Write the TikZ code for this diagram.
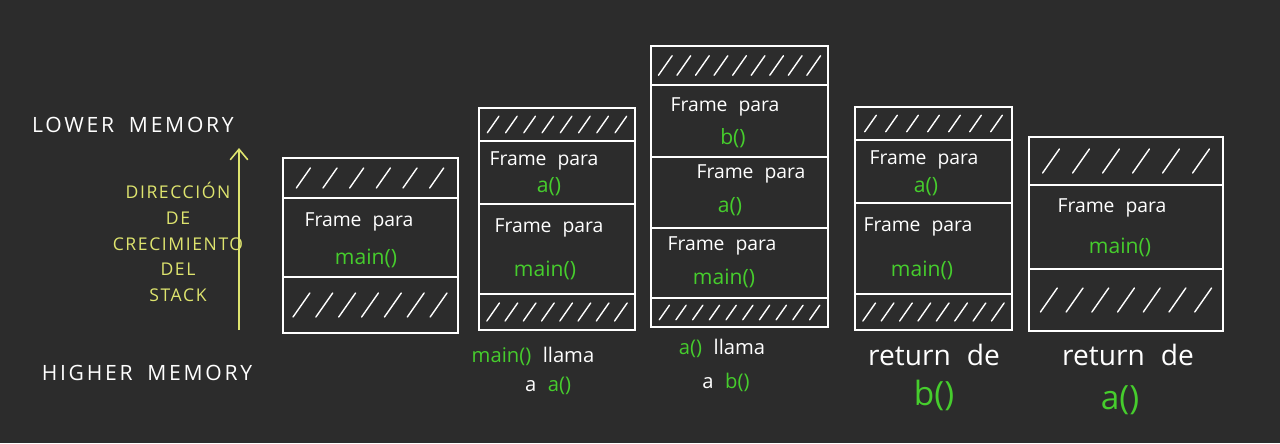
\documentclass[tikz,border=0pt]{standalone}
\usepackage{fontspec}
\setmainfont[WordSpace=2.2]{Open Sans}
\newfontfamily\spacedfont[LetterSpace=13,WordSpace=1.8]{Open Sans}
\newfontfamily\yellowfont[LetterSpace=9]{Open Sans}
\usetikzlibrary{positioning}
\usetikzlibrary{arrows.meta}
\definecolor{board}{RGB}{44,44,44}
\definecolor{codegreen}{RGB}{70,205,45}
\definecolor{chalkyellow}{RGB}{222,228,110}
% hatch strokes in a free slot: x1, x2, ytop, ybottom, count
\newcommand\hatchrow[5]{
  \foreach \i in {1,...,#5}{
    \pgfmathsetmacro\hx{#1+(#2-#1)*(\i-0.5)/#5}
    \pgfmathsetmacro\hv{min(0.5*(#4-#3),24)}
    \draw[chalk, line cap=round] (\hx-0.35*\hv, {(#3+#4)/2+\hv/2}) -- (\hx+0.35*\hv, {(#3+#4)/2-\hv/2});
  }
}
\tikzset{
  chalk/.style={white, line width=0.8pt},
  frametxt/.style={white, font=\fontsize{11}{13}\selectfont},
  fn/.style={codegreen, font=\fontsize{12}{14}\selectfont},
  bigfn/.style={codegreen, font=\fontsize{19}{22}\selectfont},
  caption/.style={white, font=\fontsize{11.5}{14}\selectfont},
  bigcaption/.style={white, font=\fontsize{16}{19}\selectfont},
}

\begin{document}
\begin{tikzpicture}[x=0.02cm, y=-0.02cm]
  \fill[board] (0,0) rectangle (1280,443);
  \useasboundingbox (0,0) rectangle (1280,443);

  % memory side
  \node[white, font=\spacedfont\fontsize{12}{14}\selectfont] (lower) at (133,125) {LOWER MEMORY};
  \node[white, font=\spacedfont\fontsize{12}{14}\selectfont] (higher) at (147,373) {HIGHER MEMORY};
  \coordinate (growfoot) at (239,330);
  \coordinate (growtip) at (239,148);
  \draw[chalkyellow, line width=0.9pt, -{Straight Barb[length=6pt,width=10pt]}] (growfoot) -- (growtip);
  \node[chalkyellow, align=center, font=\yellowfont\fontsize{10}{14.6}\selectfont] (growth) at (178,242)
    {DIRECCIÓN\\DE\\CRECIMIENTO\\DEL\\STACK};

  % stack 1
  \draw[chalk] (283,158) rectangle (458,333);
  \draw[chalk] (283,198) -- (458,198);
  \draw[chalk] (283,277) -- (458,277);
  \hatchrow{290}{450}{158}{198}{6}
  \hatchrow{290}{450}{277}{333}{7}
  \node[frametxt] (s1main) at (359,222) {Frame para};
  \node[fn] (s1mainfn) at (366,258) {main()};

  % stack 2
  \draw[chalk] (479,108) rectangle (635,330);
  \draw[chalk] (479,141) -- (635,141);
  \draw[chalk] (479,204) -- (635,204);
  \draw[chalk] (479,294) -- (635,294);
  \hatchrow{484}{630}{108}{141}{8}
  \hatchrow{484}{630}{294}{330}{8}
  \node[frametxt] (s2a) at (544,161) {Frame para};
  \node[fn] (s2afn) at (549,187) {a()};
  \node[frametxt] (s2main) at (549,228) {Frame para};
  \node[fn] (s2mainfn) at (545,270) {main()};
  \node[caption] (cap2top) at (533,356) {\textcolor{codegreen}{main()} llama};
  \node[caption] (cap2bot) at (548,386) {a \textcolor{codegreen}{a()}};

  % stack 3
  \draw[chalk] (651,46) rectangle (828,327);
  \draw[chalk] (651,85) -- (828,85);
  \draw[chalk] (651,157) -- (828,157);
  \draw[chalk] (651,228) -- (828,228);
  \draw[chalk] (651,298) -- (828,298);
  \hatchrow{656}{823}{46}{85}{9}
  \hatchrow{656}{823}{298}{327}{10}
  \node[frametxt] (s3b) at (725,107) {Frame para};
  \node[fn] (s3bfn) at (733,138) {b()};
  \node[frametxt] (s3a) at (751,174) {Frame para};
  \node[fn] (s3afn) at (730,207) {a()};
  \node[frametxt] (s3main) at (722,246) {Frame para};
  \node[fn] (s3mainfn) at (724,278) {main()};
  \node[caption] (cap3top) at (722,348) {\textcolor{codegreen}{a()} llama};
  \node[caption] (cap3bot) at (726,382) {a \textcolor{codegreen}{b()}};

  % stack 4
  \draw[chalk] (855,107) rectangle (1012,330);
  \draw[chalk] (855,140) -- (1012,140);
  \draw[chalk] (855,203) -- (1012,203);
  \draw[chalk] (855,294) -- (1012,294);
  \hatchrow{860}{1007}{107}{140}{7}
  \hatchrow{860}{1007}{294}{330}{8}
  \node[frametxt] (s4a) at (924,160) {Frame para};
  \node[fn] (s4afn) at (926,187) {a()};
  \node[frametxt] (s4main) at (918,227) {Frame para};
  \node[fn] (s4mainfn) at (922,270) {main()};
  \node[bigcaption] (cap4top) at (934,355) {return de};
  \node[bigfn] (cap4bot) at (934,395) {b()};

  % stack 5
  \draw[chalk] (1029,137) rectangle (1223,331);
  \draw[chalk] (1029,185) -- (1223,185);
  \draw[chalk] (1029,269) -- (1223,269);
  \hatchrow{1036}{1216}{137}{185}{6}
  \hatchrow{1036}{1216}{269}{331}{7}
  \node[frametxt] (s5main) at (1112,208) {Frame para};
  \node[fn] (s5mainfn) at (1120,247) {main()};
  \node[bigcaption] (cap5top) at (1128,355) {return de};
  \node[bigfn] (cap5bot) at (1120,400) {a()};
\end{tikzpicture}
\end{document}
